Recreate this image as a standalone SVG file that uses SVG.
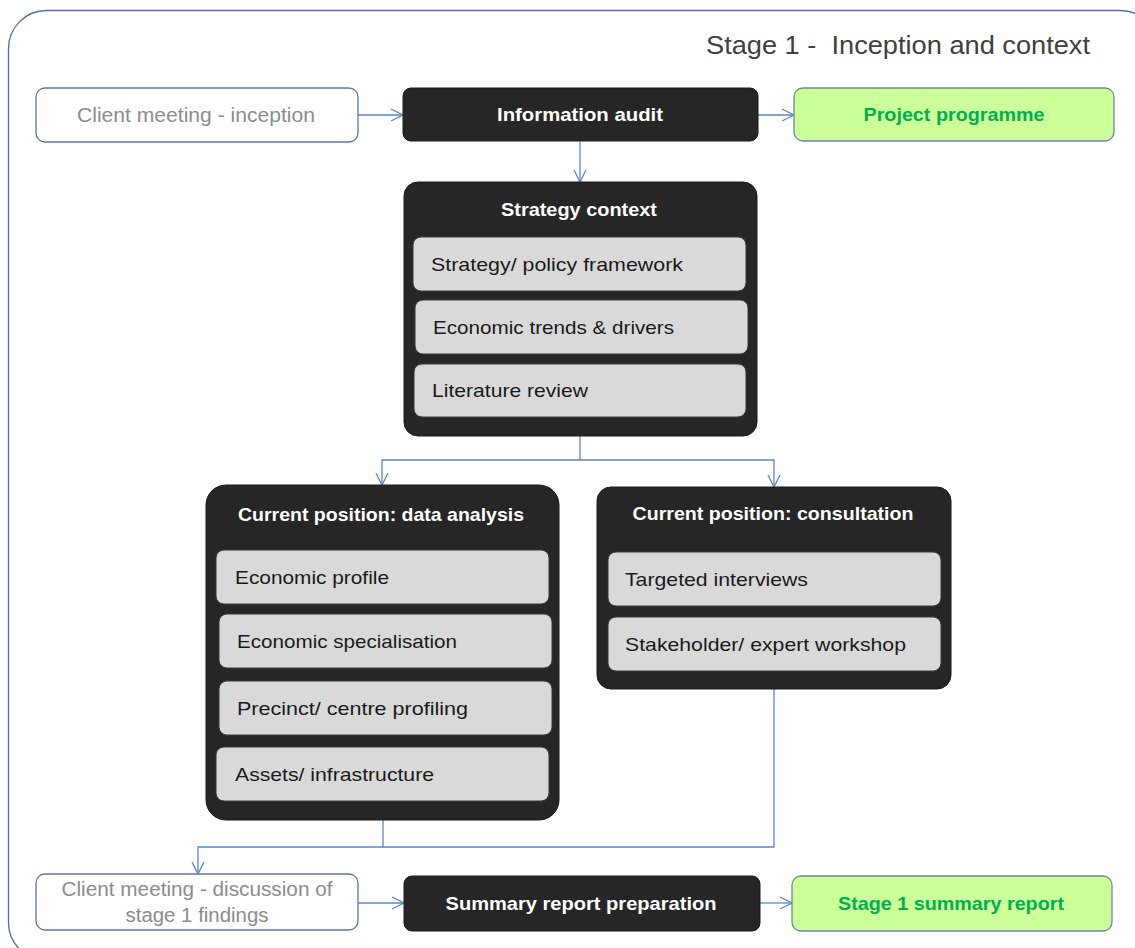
<svg xmlns="http://www.w3.org/2000/svg" width="1135" height="948" viewBox="0 0 1135 948">
<defs>
<marker id="arr" markerUnits="userSpaceOnUse" markerWidth="14" markerHeight="14" viewBox="0 0 14 14" refX="13" refY="7" orient="auto">
<path d="M1,1 L13,7 L1,13" fill="none" stroke="#5b87c5" stroke-width="1.3"/>
</marker>
<style>
.frame{fill:#fff;stroke:#4f6f9f;stroke-width:1.3}
.cm{fill:#fff;stroke:#5877a8;stroke-width:1.3}
.cmt{font-family:"Liberation Sans",Arial,sans-serif;font-size:19.5px;fill:#8c8c8c;text-anchor:middle}
.dk{fill:#262626;stroke:#1a1a1a;stroke-width:1}
.dkt{font-family:"Liberation Sans",Arial,sans-serif;font-size:18.5px;font-weight:bold;fill:#fff;text-anchor:middle}
.gr{fill:#d9d9d9;stroke:#3a3a3a;stroke-width:1}
.grt{font-family:"Liberation Sans",Arial,sans-serif;font-size:19px;fill:#1a1a1a}
.gn{fill:#ccff99;stroke:#6f85a6;stroke-width:1.3}
.gnt{font-family:"Liberation Sans",Arial,sans-serif;font-size:18.5px;font-weight:bold;fill:#00b050;text-anchor:middle}
.title{font-family:"Liberation Sans",Arial,sans-serif;font-size:25px;fill:#404040}
.c{fill:none;stroke:#5b87c5;stroke-width:1.3}
</style>
</defs>
<rect class="frame" x="8.5" y="10.5" width="1150" height="950" rx="38"/>
<text class="title" x="706" y="54" textLength="384" lengthAdjust="spacingAndGlyphs">Stage 1 -&#160; Inception and context</text>

<g id="connectors">
<path class="c" d="M358,115 H403" marker-end="url(#arr)"/>
<path class="c" d="M758,115 H794" marker-end="url(#arr)"/>
<path class="c" d="M580,142 V182" marker-end="url(#arr)"/>
<path class="c" d="M580,436 V460 H382 V485" marker-end="url(#arr)"/>
<path class="c" d="M580,460 H774 V487" marker-end="url(#arr)"/>
<path class="c" d="M383,820 V847 H198 V874" marker-end="url(#arr)"/>
<path class="c" d="M774,689 V847 H383"/>
<path class="c" d="M358,903 H404" marker-end="url(#arr)"/>
<path class="c" d="M760,903 H792" marker-end="url(#arr)"/>
</g>

<g id="client-inception">
<rect class="cm" x="36" y="88" width="322" height="54" rx="9"/>
<text class="cmt" x="196" y="122" textLength="238" lengthAdjust="spacingAndGlyphs">Client meeting - inception</text>
</g>
<g id="information-audit">
<rect class="dk" x="403" y="88" width="355" height="53" rx="8"/>
<text class="dkt" x="580" y="121" textLength="166" lengthAdjust="spacingAndGlyphs">Information audit</text>
</g>
<g id="project-programme">
<rect class="gn" x="794" y="88" width="320" height="53" rx="9"/>
<text class="gnt" x="954" y="121" textLength="181" lengthAdjust="spacingAndGlyphs">Project programme</text>
</g>

<g id="strategy-context">
<rect class="dk" x="404" y="182" width="353" height="254" rx="14"/>
<text class="dkt" x="579" y="216" textLength="156" lengthAdjust="spacingAndGlyphs">Strategy context</text>
<g id="strategy-policy">
<rect class="gr" x="413" y="237" width="333" height="54" rx="8"/>
<text class="grt" x="431" y="271" textLength="252" lengthAdjust="spacingAndGlyphs">Strategy/ policy framework</text>
</g>
<g id="economic-trends">
<rect class="gr" x="415" y="300" width="333" height="54" rx="8"/>
<text class="grt" x="433" y="334" textLength="241" lengthAdjust="spacingAndGlyphs">Economic trends &amp; drivers</text>
</g>
<g id="literature-review">
<rect class="gr" x="414" y="364" width="332" height="53" rx="8"/>
<text class="grt" x="432" y="397" textLength="156" lengthAdjust="spacingAndGlyphs">Literature review</text>
</g>
</g>

<g id="data-analysis">
<rect class="dk" x="206" y="485" width="353" height="335" rx="20"/>
<text class="dkt" x="381" y="521" textLength="286" lengthAdjust="spacingAndGlyphs">Current position: data analysis</text>
<g id="economic-profile">
<rect class="gr" x="216" y="550" width="333" height="54" rx="8"/>
<text class="grt" x="235" y="584" textLength="154" lengthAdjust="spacingAndGlyphs">Economic profile</text>
</g>
<g id="economic-specialisation">
<rect class="gr" x="219" y="614" width="333" height="54" rx="8"/>
<text class="grt" x="237" y="648" textLength="220" lengthAdjust="spacingAndGlyphs">Economic specialisation</text>
</g>
<g id="precinct-profiling">
<rect class="gr" x="219" y="681" width="333" height="54" rx="8"/>
<text class="grt" x="237" y="715" textLength="231" lengthAdjust="spacingAndGlyphs">Precinct/ centre profiling</text>
</g>
<g id="assets-infrastructure">
<rect class="gr" x="216" y="747" width="333" height="54" rx="8"/>
<text class="grt" x="235" y="781" textLength="199" lengthAdjust="spacingAndGlyphs">Assets/ infrastructure</text>
</g>
</g>

<g id="consultation">
<rect class="dk" x="597" y="487" width="354" height="202" rx="14"/>
<text class="dkt" x="773" y="520" textLength="281" lengthAdjust="spacingAndGlyphs">Current position: consultation</text>
<g id="targeted-interviews">
<rect class="gr" x="608" y="552" width="333" height="54" rx="8"/>
<text class="grt" x="625" y="586" textLength="183" lengthAdjust="spacingAndGlyphs">Targeted interviews</text>
</g>
<g id="stakeholder-workshop">
<rect class="gr" x="608" y="617" width="333" height="54" rx="8"/>
<text class="grt" x="625" y="651" textLength="281" lengthAdjust="spacingAndGlyphs">Stakeholder/ expert workshop</text>
</g>
</g>

<g id="client-discussion">
<rect class="cm" x="36" y="874" width="322" height="56" rx="9"/>
<text class="cmt" x="197" y="896" textLength="271" lengthAdjust="spacingAndGlyphs">Client meeting - discussion of</text>
<text class="cmt" x="197" y="922" textLength="143" lengthAdjust="spacingAndGlyphs">stage 1 findings</text>
</g>
<g id="summary-preparation">
<rect class="dk" x="404" y="876" width="356" height="55" rx="8"/>
<text class="dkt" x="581" y="910" textLength="271" lengthAdjust="spacingAndGlyphs">Summary report preparation</text>
</g>
<g id="summary-report">
<rect class="gn" x="792" y="876" width="320" height="55" rx="9"/>
<text class="gnt" x="951" y="910" textLength="226" lengthAdjust="spacingAndGlyphs">Stage 1 summary report</text>
</g>
</svg>
